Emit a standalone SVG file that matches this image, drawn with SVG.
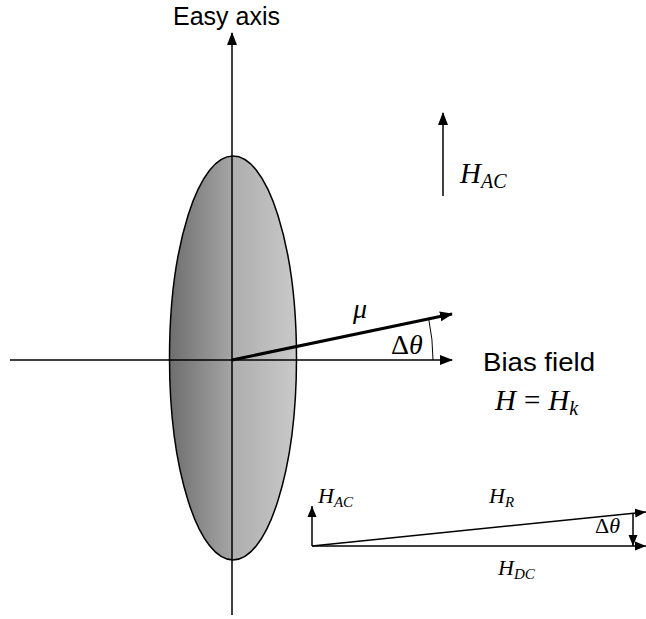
<svg xmlns="http://www.w3.org/2000/svg" width="646" height="619" viewBox="0 0 646 619">
<style>
.ax{stroke:#000;stroke-width:1.5;fill:none}
.thick{stroke:#000;stroke-width:3;fill:none}
.thin{stroke:#000;stroke-width:1;fill:none}
.lbl{font-family:"Liberation Sans",Arial,sans-serif;fill:#000}
.m{font-family:"Liberation Serif","Times New Roman",serif;font-style:italic;fill:#000}
.up{font-style:normal}
</style>
<defs>
<linearGradient id="g" x1="0" y1="0" x2="1" y2="0">
<stop offset="0" stop-color="#6e6e6e"/>
<stop offset="0.5" stop-color="#a6a6a6"/>
<stop offset="0.5" stop-color="#aeaeae"/>
<stop offset="1" stop-color="#c9c9c9"/>
</linearGradient>
<marker id="ah" markerUnits="userSpaceOnUse" markerWidth="14" markerHeight="12" refX="12" refY="5" orient="auto" viewBox="0 0 14 10">
<path d="M0,0 L13,5 L0,10 Z" fill="#000"/>
</marker>
<marker id="ahs" markerUnits="userSpaceOnUse" markerWidth="12" markerHeight="10" refX="11" refY="4.5" orient="auto" viewBox="0 0 12 9">
<path d="M0,0 L11,4.5 L0,9 Z" fill="#000"/>
</marker>
</defs>
<g id="ellipse">
<ellipse cx="233" cy="358" rx="63.5" ry="202" fill="url(#g)" stroke="#000" stroke-width="1.5"/>
</g>
<g id="connectors">
<line class="ax" x1="232" y1="615" x2="232" y2="33" marker-end="url(#ah)"/>
<line class="ax" x1="10" y1="360" x2="452" y2="360" marker-end="url(#ah)"/>
<line class="thick" x1="232" y1="360" x2="452" y2="314" marker-end="url(#ah)"/>
<path class="thin" d="M428.7,318.9 A201,201 0 0 1 433,360"/>
<line class="ax" x1="443" y1="196" x2="443" y2="113" marker-end="url(#ah)"/>
<line class="ax" x1="312" y1="546" x2="312" y2="506" marker-end="url(#ahs)"/>
<line class="ax" x1="312" y1="546" x2="646" y2="546" marker-end="url(#ahs)"/>
<line class="ax" x1="312" y1="546" x2="646" y2="512" marker-end="url(#ahs)"/>
<line class="ax" x1="633" y1="513" x2="633" y2="546" marker-end="url(#ahs)"/>
</g>
<g id="labels">
<text class="lbl" x="173" y="25" font-size="25">Easy axis</text>
<text class="lbl" x="483" y="371" font-size="26" textLength="112" lengthAdjust="spacingAndGlyphs">Bias field</text>
<text class="m" x="495" y="410" font-size="29">H<tspan class="up" dx="8">=</tspan><tspan dx="8">H</tspan><tspan font-size="20" dy="5">k</tspan></text>
<text class="m" x="460" y="183" font-size="29">H<tspan font-size="20" dy="5">AC</tspan></text>
<text class="m" x="353" y="318" font-size="28">μ</text>
<text class="m" x="391" y="354" font-size="28"><tspan class="up">Δ</tspan>θ</text>
<text class="m" x="318" y="503" font-size="22">H<tspan font-size="15" dy="4">AC</tspan></text>
<text class="m" x="489" y="503" font-size="22">H<tspan font-size="15" dy="4">R</tspan></text>
<text class="m" x="595" y="533" font-size="22"><tspan class="up">Δ</tspan>θ</text>
<text class="m" x="498" y="575" font-size="22">H<tspan font-size="15" dy="4">DC</tspan></text>
</g>
</svg>
